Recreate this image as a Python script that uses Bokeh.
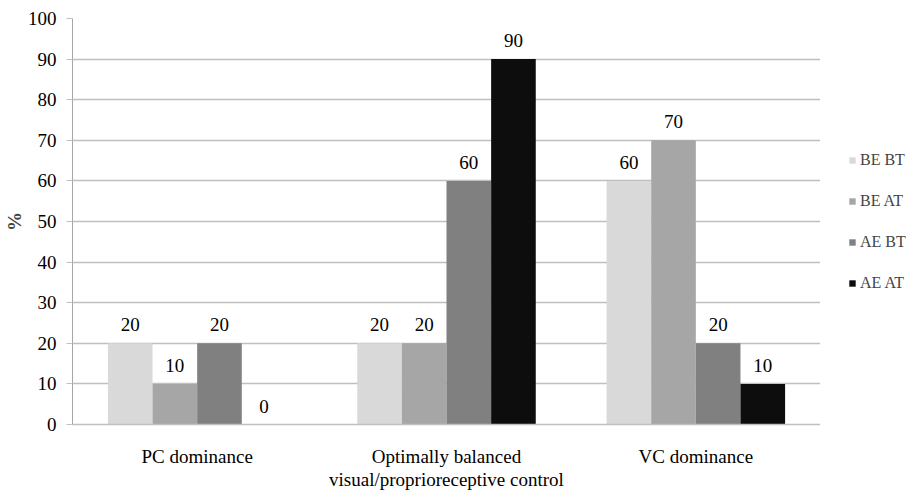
from bokeh.plotting import figure
from bokeh.layouts import row
from bokeh.models import ColumnDataSource, FactorRange, Legend, LegendItem, LabelSet, Range1d
from bokeh.transform import dodge
from bokeh.embed import file_html
from bokeh.resources import INLINE

categories = ["PC dominance", "Optimally balanced\nvisual/proprioreceptive control", "VC dominance"]
series_names = ["BE BT", "BE AT", "AE BT", "AE AT"]
be_bt = [20, 20, 60]
be_at = [10, 20, 70]
ae_bt = [20, 60, 20]
ae_at = [0, 90, 10]
colors = ["#d9d9d9", "#a6a6a6", "#808080", "#0d0d0d"]
y_ticks = [0, 10, 20, 30, 40, 50, 60, 70, 80, 90, 100]

FONT = "'Liberation Serif', 'Times New Roman', serif"
FS = "19px"
data = dict(cat=categories, s0=be_bt, s1=be_at, s2=ae_bt, s3=ae_at)
for i, k in enumerate(["s0", "s1", "s2", "s3"]):
    data["l" + str(i)] = [str(v) for v in data[k]]
src = ColumnDataSource(data)

H = 492
p = figure(x_range=FactorRange(*categories), y_range=Range1d(0, 100),
           width=820, height=H, output_backend="svg", toolbar_location=None,
           min_border_left=0, min_border_top=18, min_border_bottom=0, min_border_right=0)

bw = 0.179
offsets = [-1.5 * bw, -0.5 * bw, 0.5 * bw, 1.5 * bw]
for i, k in enumerate(["s0", "s1", "s2", "s3"]):
    p.vbar(x=dodge("cat", offsets[i], range=p.x_range), top=k, bottom=0, width=bw,
           source=src, fill_color=colors[i], line_color=None)
    lbl = LabelSet(x=dodge("cat", offsets[i], range=p.x_range), y=k, text="l" + str(i),
                   source=src, text_align="center", text_baseline="bottom", y_offset=12,
                   text_font=FONT, text_font_size=FS, text_color="#000000")
    p.add_layout(lbl)

p.xgrid.grid_line_color = None
p.ygrid.grid_line_color = "#bfbfbf"
p.ygrid.grid_line_width = 1.3
p.yaxis.ticker = y_ticks
p.yaxis.major_label_text_font = FONT
p.yaxis.major_label_text_font_size = FS
p.yaxis.major_label_text_color = "#000000"
p.yaxis.axis_line_color = "#a6a6a6"
p.yaxis.major_tick_line_color = "#bfbfbf"
p.yaxis.major_tick_out = 6
p.yaxis.major_tick_in = 0
p.yaxis.minor_tick_line_color = None
p.yaxis.major_label_standoff = 10
p.yaxis.axis_label = "%"
p.yaxis.axis_label_text_font = FONT
p.yaxis.axis_label_text_font_style = "bold"
p.yaxis.axis_label_text_font_size = FS
p.yaxis.axis_label_standoff = 0

p.xaxis.major_label_text_font = FONT
p.xaxis.major_label_text_font_size = FS
p.xaxis.major_label_text_line_height = 1.1
p.xaxis.major_label_text_color = "#000000"
p.xaxis.axis_line_color = "#bfbfbf"
p.xaxis.axis_line_width = 1.3
p.xaxis.major_tick_line_color = None
p.xaxis.major_tick_out = 0
p.xaxis.major_label_standoff = 21
p.outline_line_color = None
p.x_range.range_padding = 0
p.x_range.group_padding = 0

# legend panel
q = figure(width=92, height=H, output_backend="svg", toolbar_location=None,
           x_axis_type=None, y_axis_type=None, x_range=Range1d(0, 1), y_range=Range1d(0, 1),
           min_border=0, outline_line_color=None)
items = []
for i in range(4):
    r = q.vbar(x=[5], top=[0], bottom=[0], width=0.1, fill_color=colors[i], line_color=None)
    items.append(LegendItem(label=series_names[i], renderers=[r]))
legend = Legend(items=items, location=(28, 131), orientation="vertical")
legend.label_text_font = FONT
legend.label_text_font_size = "16px"
legend.glyph_width = 8
legend.glyph_height = 8
legend.label_height = 20
legend.spacing = 21
legend.padding = 0
legend.margin = 0
legend.label_standoff = 4
legend.border_line_color = None
legend.background_fill_alpha = 0
q.add_layout(legend)

layout = row(p, q)
open("out.html", "w").write(file_html(layout, INLINE))
